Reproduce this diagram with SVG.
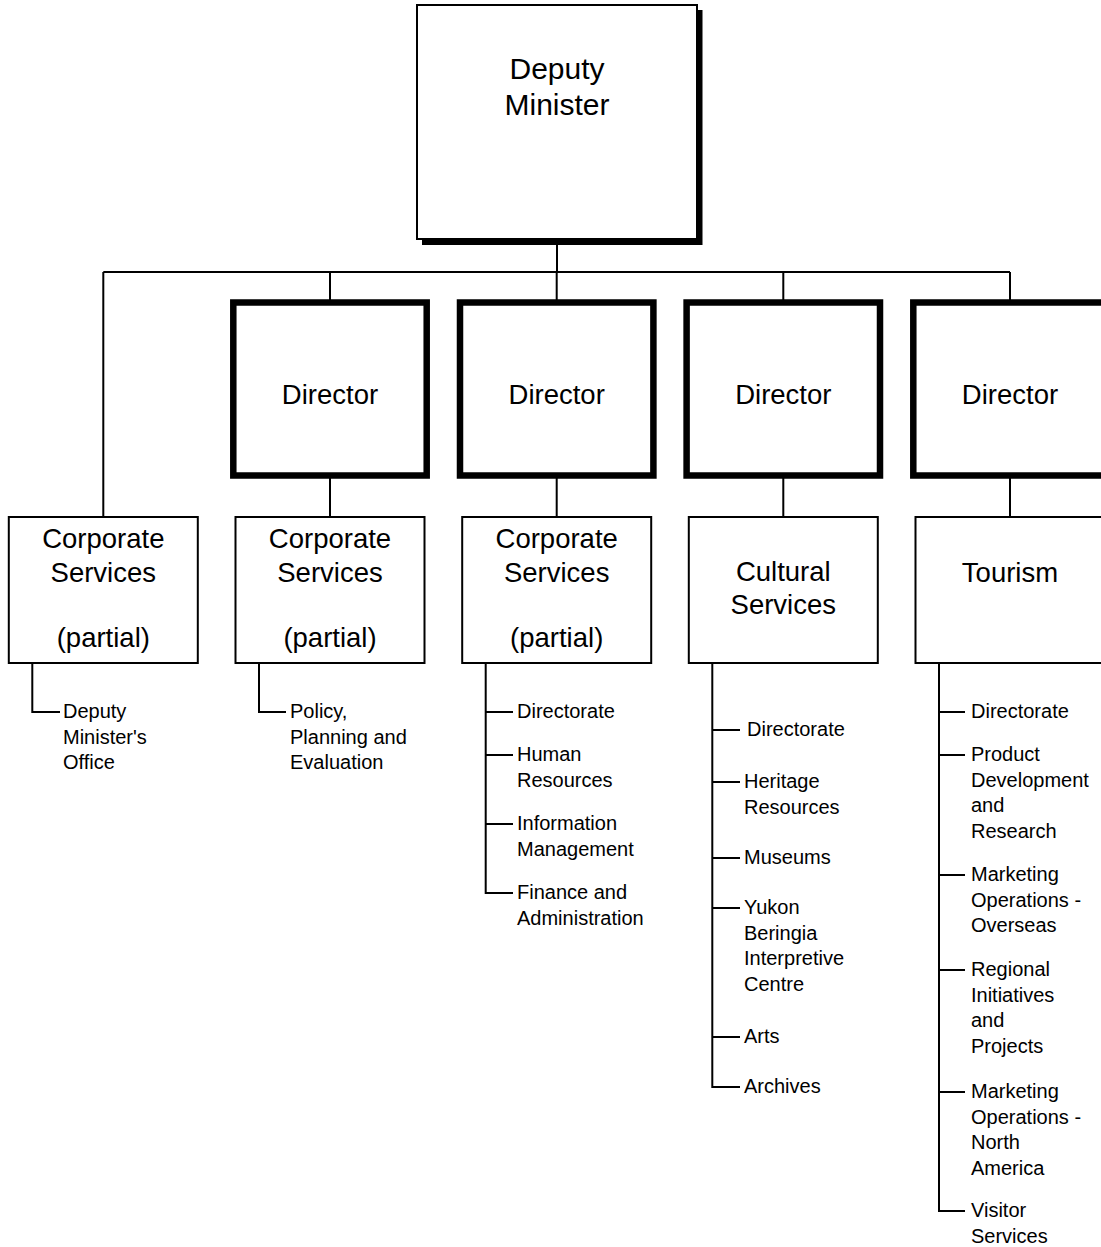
<svg xmlns="http://www.w3.org/2000/svg" width="1101" height="1247" viewBox="0 0 1101 1247">
<style>
text{font-family:"Liberation Sans",Arial,sans-serif;fill:#000}
.big{font-size:30px;text-anchor:middle}
.mid{font-size:27.5px;text-anchor:middle}
.sm{font-size:20px}
.box{fill:#fff;stroke:#000;stroke-width:2}
.dir{fill:#fff;stroke:#000;stroke-width:6.5}
.ln{fill:none;stroke:#000;stroke-width:2}
</style>
<rect width="1101" height="1247" fill="#fff"/>
<g id="connectors">
<path class="ln" d="M557 240V272M103.3 272H1010M103.3 272V517M330 272V300M556.7 272V300M783.3 272V300M1010 272V300"/>
<path class="ln" d="M330 478V517M556.7 478V517M783.3 478V517M1010 478V517"/>
<path class="ln" d="M32.3 663V712H60"/>
<path class="ln" d="M259 663V712H286"/>
<path class="ln" d="M485.7 663V893H513M485.7 712H513M485.7 755H513M485.7 824H513"/>
<path class="ln" d="M712.3 663V1087H740M712.3 730H740M712.3 782H740M712.3 858H740M712.3 908H740M712.3 1037H740"/>
<path class="ln" d="M939 663V1211H965M939 712H965M939 755H965M939 875H965M939 970H965M939 1092H965"/>
</g>
<g id="deputy-minister">
<rect x="422" y="10" width="280.5" height="235" fill="#000"/>
<rect class="box" x="417" y="5" width="280" height="234"/>
<text class="big" x="557" y="79">Deputy</text>
<text class="big" x="557" y="115">Minister</text>
</g>
<g id="director-2">
<rect class="dir" x="233.3" y="302.5" width="193.4" height="173"/>
<text class="mid" x="330" y="404">Director</text>
</g>
<g id="director-3">
<rect class="dir" x="460" y="302.5" width="193.4" height="173"/>
<text class="mid" x="556.7" y="404">Director</text>
</g>
<g id="director-4">
<rect class="dir" x="686.6" y="302.5" width="193.4" height="173"/>
<text class="mid" x="783.3" y="404">Director</text>
</g>
<g id="director-5">
<rect class="dir" x="913.3" y="302.5" width="193.4" height="173"/>
<text class="mid" x="1010" y="404">Director</text>
</g>
<g id="corp-1">
<rect class="box" x="8.8" y="517" width="189" height="146"/>
<text class="mid" x="103.3" y="548">Corporate</text>
<text class="mid" x="103.3" y="582">Services</text>
<text class="mid" x="103.3" y="647">(partial)</text>
</g>
<g id="corp-2">
<rect class="box" x="235.5" y="517" width="189" height="146"/>
<text class="mid" x="330" y="548">Corporate</text>
<text class="mid" x="330" y="582">Services</text>
<text class="mid" x="330" y="647">(partial)</text>
</g>
<g id="corp-3">
<rect class="box" x="462.2" y="517" width="189" height="146"/>
<text class="mid" x="556.7" y="548">Corporate</text>
<text class="mid" x="556.7" y="582">Services</text>
<text class="mid" x="556.7" y="647">(partial)</text>
</g>
<g id="cultural">
<rect class="box" x="688.8" y="517" width="189" height="146"/>
<text class="mid" x="783.3" y="581">Cultural</text>
<text class="mid" x="783.3" y="614">Services</text>
</g>
<g id="tourism">
<rect class="box" x="915.5" y="517" width="189" height="146"/>
<text class="mid" x="1010" y="582">Tourism</text>
</g>
<g id="list-1">
<text class="sm" x="63" y="718">Deputy</text>
<text class="sm" x="63" y="743.5">Minister's</text>
<text class="sm" x="63" y="769">Office</text>
</g>
<g id="list-2">
<text class="sm" x="290" y="718">Policy,</text>
<text class="sm" x="290" y="743.5">Planning and</text>
<text class="sm" x="290" y="769">Evaluation</text>
</g>
<g id="list-3">
<text class="sm" x="517" y="718">Directorate</text>
<text class="sm" x="517" y="761">Human</text>
<text class="sm" x="517" y="786.7">Resources</text>
<text class="sm" x="517" y="830">Information</text>
<text class="sm" x="517" y="855.7">Management</text>
<text class="sm" x="517" y="899">Finance and</text>
<text class="sm" x="517" y="924.7">Administration</text>
</g>
<g id="list-4">
<text class="sm" x="747" y="736">Directorate</text>
<text class="sm" x="744" y="788">Heritage</text>
<text class="sm" x="744" y="813.7">Resources</text>
<text class="sm" x="744" y="864">Museums</text>
<text class="sm" x="744" y="914">Yukon</text>
<text class="sm" x="744" y="939.7">Beringia</text>
<text class="sm" x="744" y="965.4">Interpretive</text>
<text class="sm" x="744" y="991">Centre</text>
<text class="sm" x="744" y="1043">Arts</text>
<text class="sm" x="744" y="1093">Archives</text>
</g>
<g id="list-5">
<text class="sm" x="971" y="718">Directorate</text>
<text class="sm" x="971" y="761">Product</text>
<text class="sm" x="971" y="786.7">Development</text>
<text class="sm" x="971" y="812.4">and</text>
<text class="sm" x="971" y="838">Research</text>
<text class="sm" x="971" y="881">Marketing</text>
<text class="sm" x="971" y="906.7">Operations -</text>
<text class="sm" x="971" y="932.4">Overseas</text>
<text class="sm" x="971" y="976">Regional</text>
<text class="sm" x="971" y="1001.7">Initiatives</text>
<text class="sm" x="971" y="1027.4">and</text>
<text class="sm" x="971" y="1053">Projects</text>
<text class="sm" x="971" y="1098">Marketing</text>
<text class="sm" x="971" y="1123.7">Operations -</text>
<text class="sm" x="971" y="1149.4">North</text>
<text class="sm" x="971" y="1175">America</text>
<text class="sm" x="971" y="1217">Visitor</text>
<text class="sm" x="971" y="1242.7">Services</text>
</g>
</svg>
